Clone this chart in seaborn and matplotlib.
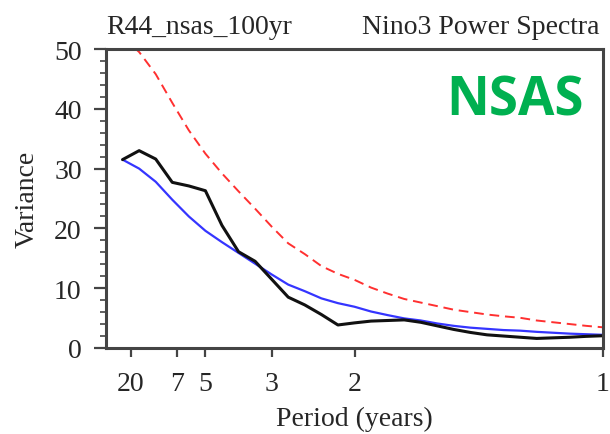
import numpy as np
import pandas as pd
import matplotlib
matplotlib.use("Agg")
import matplotlib.pyplot as plt
import seaborn as sns

# Spectral harmonics of the 100-yr record (30 bands between 0 and 1 cycle/yr)
harmonics = np.arange(1, 31)
freq = harmonics / 30.0

# Nino3 power spectrum (black), red-noise fit (blue), 95% bound (red dashed)
spectrum = [31.5, 33.0, 31.6, 27.7, 27.1, 26.3, 20.5, 16.1, 14.5, 11.5,
            8.5, 7.2, 5.6, 3.85, 4.2, 4.5, 4.6, 4.7, 4.3, 3.7,
            3.1, 2.6, 2.2, 2.0, 1.8, 1.6, 1.7, 1.8, 1.95, 2.05]
red_noise = [31.5, 30.0, 27.8, 24.8, 22.0, 19.6, 17.7, 15.9, 14.1, 12.3,
             10.6, 9.5, 8.3, 7.5, 6.9, 6.1, 5.5, 4.95, 4.6, 4.1,
             3.7, 3.4, 3.2, 3.0, 2.9, 2.7, 2.55, 2.4, 2.3, 2.2]
conf95 = [52.0, 49.5, 45.8, 41.0, 36.4, 32.5, 29.2, 26.2, 23.3, 20.3,
          17.5, 15.7, 13.7, 12.4, 11.4, 10.1, 9.1, 8.2, 7.6, 7.0,
          6.4, 6.0, 5.6, 5.3, 5.05, 4.6, 4.3, 4.0, 3.7, 3.46]

period_ticks = [20, 7, 5, 3, 2, 1]

df = pd.DataFrame({"freq": freq, "spectrum": spectrum,
                   "red_noise": red_noise, "conf95": conf95})

sns.set_style("white")
plt.rcParams["font.family"] = ["Liberation Serif", "DejaVu Serif"]

fig = plt.figure(figsize=(6.1, 4.35), dpi=100)
ax = fig.add_axes([106 / 610, 1 - 349 / 435, 497 / 610, 299 / 435])

sns.lineplot(data=df, x="freq", y="conf95", ax=ax, color="#ff3030",
             linewidth=1.4)
ax.lines[-1].set_dashes([5, 3])
sns.lineplot(data=df, x="freq", y="red_noise", ax=ax, color="#3535ff",
             linewidth=1.6)
sns.lineplot(data=df, x="freq", y="spectrum", ax=ax, color="#111111",
             linewidth=2.2)

ax.set_xlim(0, 1)
ax.set_ylim(0, 50)
ax.set_xticks([1.0 / p for p in period_ticks])
ax.set_xticklabels([str(p) for p in period_ticks])
ax.set_yticks([0, 10, 20, 30, 40, 50])
ax.set_yticks(np.arange(0, 51, 2), minor=True)

for side, sp in ax.spines.items():
    sp.set_color("#444444")
    sp.set_linewidth(2.2)

ax.tick_params(left=True, bottom=True, top=False, right=False)
ax.tick_params(axis="y", which="major", direction="out", length=8.5,
               width=1.6, color="#444444", labelsize=20, pad=9)
ax.tick_params(axis="y", which="minor", direction="out", length=4,
               width=1.2, color="#444444", left=True)
ax.tick_params(axis="x", which="major", direction="out", length=6.5,
               width=1.6, color="#444444", labelsize=20, pad=10)

ax.set_xlabel("Period (years)", fontsize=20, labelpad=7)
ax.set_ylabel("Variance", fontsize=20, labelpad=10)

ax.text(0.0, 1.055, "R44_nsas_100yr", transform=ax.transAxes,
        fontsize=20, ha="left", va="baseline")
ax.text(1.0 - 3 / 497, 1.055, "Nino3 Power Spectra", transform=ax.transAxes,
        fontsize=20, ha="right", va="baseline")

fig.text(515 / 610, 1 - 102 / 435, "NSAS", fontsize=38, fontweight="bold",
         color="#00b050", ha="center", va="center",
         family=["Open Sans", "DejaVu Sans"])

fig.savefig("out.png", dpi=100, facecolor="white")
